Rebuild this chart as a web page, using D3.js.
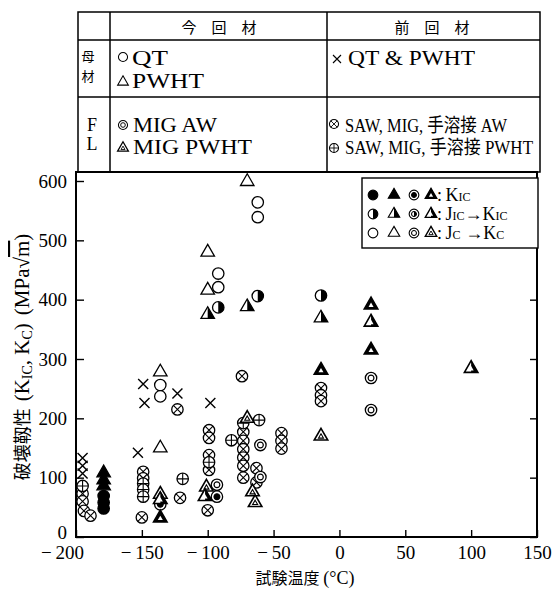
<!DOCTYPE html>
<html>
<head>
<meta charset="utf-8">
<script src="https://cdn.jsdelivr.net/npm/d3@7"></script>
<style>
  body { margin: 0; background: #fff; }
  text { font-family: "Liberation Serif", "Times New Roman", "DejaVu Serif", "Noto Sans CJK JP", serif; fill: #000; }
  .cjk { font-family: "Noto Sans CJK JP", sans-serif; }
</style>
</head>
<body>
<div id="chart"></div>
<script>
// points: [temperature degC, toughness MPa sqrt(m), state]  state: f = K_IC, h = J_IC->K_IC, o = J_C->K_C
var qtPts = [[-179, 69, "f"], [-179, 58, "f"], [-179, 48, "f"],
  [-136, 256, "o"], [-136, 237, "o"], [-92, 444, "o"], [-92, 421, "o"], [-92, 387, "h"],
  [-62, 564, "o"], [-62, 539, "o"], [-62, 406, "h"], [-14, 407, "h"]];
var pwhtPts = [[-179, 108, "f"], [-179, 96, "f"], [-179, 86, "f"],
  [-136, 278, "o"], [-136, 150, "o"], [-100, 480, "o"], [-100, 416, "o"], [-100, 375, "h"],
  [-70, 599, "o"], [-70, 388, "h"], [-14, 369, "h"]];
var migAwPts = [[-136, 55, "f"], [-93, 88, "o"], [-93, 68, "f"], [-60, 155, "o"], [-60, 101, "o"],
  [24, 268, "o"], [24, 214, "o"]];
var migPwhtPts = [[-136, 72, "o"], [-136, 63, "h"], [-136, 32, "f"], [-101, 84, "o"], [-102, 68, "h"],
  [-70, 200, "o"], [-66, 76, "o"], [-64, 58, "o"], [-14, 281, "f"], [-14, 170, "o"],
  [24, 391, "f"], [24, 362, "h"], [24, 315, "f"], [100, 284, "h"]];
var prevBmPts = [[-195, 133], [-195, 120], [-195, 107], [-149, 258], [-148, 226], [-153, 142],
  [-123, 242], [-98, 226]];
var prevAwPts = [[-195, 73], [-195, 60], [-194, 44], [-189, 36],
  [-149, 110], [-149, 99], [-150, 33], [-123, 215], [-121, 66],
  [-99, 180], [-99, 167], [-99, 138], [-99, 113], [-100, 45],
  [-74, 271], [-73, 177], [-73, 162], [-73, 148], [-73, 134], [-73, 120], [-73, 100],
  [-63, 116], [-63, 92], [-44, 175], [-44, 162], [-44, 149], [-14, 251], [-14, 239], [-14, 229]];
var prevPwhtPts = [[-195, 86], [-149, 90], [-149, 80], [-149, 68], [-119, 98], [-99, 126],
  [-73, 192], [-82, 163], [-61, 197]];

var xTicks = [-200, -150, -100, -50, 0, 50, 100, 150];
var yTicks = [0, 100, 200, 300, 400, 500, 600];

var width = 557, height = 591;
var left = 76, right = 537, bottom = 537, plotTop = 172, tableTop = 12;
var x = d3.scaleLinear([-200, 150], [left, right]);
var y = d3.scaleLinear([0, 600], [bottom, 181]);

var svg = d3.select("#chart").append("svg").attr("width", width).attr("height", height);

// ---- marker drawing ----
function triPath(s) {
  var h = s * Math.sqrt(3) / 2;
  return "M0," + (-h * 2 / 3) + "L" + (s / 2) + "," + (h / 3) + "L" + (-s / 2) + "," + (h / 3) + "Z";
}
function halfTriPath(s) {
  var h = s * Math.sqrt(3) / 2;
  return "M0," + (-h * 2 / 3) + "L" + (s / 2) + "," + (h / 3) + "L0," + (h / 3) + "Z";
}
function halfCircPath(r) {
  return "M0," + (-r) + "A" + r + "," + r + " 0 0 1 0," + r + "Z";
}

function drawMarker(g, kind, state) {
  var sw = 1.3;
  if (kind == "qt") {
    g.append("circle").attr("r", 5.7).attr("fill", state == "f" ? "#000" : "#fff").attr("stroke", "#000").attr("stroke-width", sw);
    if (state == "h") g.append("path").attr("d", halfCircPath(5.7)).attr("fill", "#000");
  } else if (kind == "pwht") {
    g.append("path").attr("d", triPath(13.5)).attr("fill", state == "f" ? "#000" : "#fff").attr("stroke", "#000").attr("stroke-width", sw);
    if (state == "h") g.append("path").attr("d", halfTriPath(13.5)).attr("fill", "#000");
  } else if (kind == "migaw") {
    g.append("circle").attr("r", 5.7).attr("fill", "#fff").attr("stroke", "#000").attr("stroke-width", sw);
    g.append("circle").attr("r", 2.9).attr("fill", state == "f" ? "#000" : "#fff").attr("stroke", "#000").attr("stroke-width", 1.2);
    if (state == "h") g.append("path").attr("d", halfCircPath(2.9)).attr("fill", "#000");
  } else if (kind == "migpwht") {
    g.append("path").attr("d", triPath(13.5)).attr("fill", state == "f" ? "#000" : "#fff").attr("stroke", "#000").attr("stroke-width", 1.6);
    if (state == "h") g.append("path").attr("d", halfTriPath(13.5)).attr("fill", "#000");
    g.append("path").attr("d", triPath(5)).attr("transform", "translate(0,0.5)")
      .attr("fill", "#fff").attr("stroke", "#000").attr("stroke-width", state == "o" ? 1.1 : 0);
  } else if (kind == "cross") {
    g.append("path").attr("d", "M-5,-5L5,5M5,-5L-5,5").attr("stroke", "#000").attr("stroke-width", 1.4);
  } else if (kind == "otimes" || kind == "oplus") {
    g.append("circle").attr("r", 5.7).attr("fill", "#fff").attr("stroke", "#000").attr("stroke-width", sw);
    var d = kind == "otimes" ? "M-4,-4L4,4M4,-4L-4,4" : "M-5.7,0L5.7,0M0,-5.7L0,5.7";
    g.append("path").attr("d", d).attr("stroke", "#000").attr("stroke-width", 1.1);
  }
}

// ---- table ----
var colA = 110, colB = 327, row1 = 40, row2 = 97;
var tbl = svg.append("g").attr("stroke", "#000").attr("stroke-width", 1.5);
tbl.append("rect").attr("x", left + 2).attr("y", tableTop).attr("width", right + 3 - left - 2).attr("height", plotTop - tableTop).attr("fill", "none");
tbl.append("line").attr("x1", left + 2).attr("x2", right + 3).attr("y1", row1).attr("y2", row1);
tbl.append("line").attr("x1", left + 2).attr("x2", right + 3).attr("y1", row2).attr("y2", row2);
tbl.append("line").attr("x1", colA).attr("x2", colA).attr("y1", tableTop).attr("y2", plotTop);
tbl.append("line").attr("x1", colB).attr("x2", colB).attr("y1", tableTop).attr("y2", plotTop);

var tt = svg.append("g");
tt.append("text").attr("class", "cjk").attr("x", 219).attr("y", 33).attr("text-anchor", "middle").attr("font-size", 15).text("今　回　材");
tt.append("text").attr("class", "cjk").attr("x", 432).attr("y", 33).attr("text-anchor", "middle").attr("font-size", 15).text("前　回　材");
tt.append("text").attr("class", "cjk").attr("x", 88).attr("y", 61).attr("text-anchor", "middle").attr("font-size", 13).text("母");
tt.append("text").attr("class", "cjk").attr("x", 88).attr("y", 81).attr("text-anchor", "middle").attr("font-size", 13).text("材");
tt.append("text").attr("x", 92).attr("y", 131).attr("text-anchor", "middle").attr("font-size", 18).text("F");
tt.append("text").attr("x", 92).attr("y", 150).attr("text-anchor", "middle").attr("font-size", 18).text("L");

var tableRows = [
  { kind: "qt", x: 123, y: 57, tx: 132, ty: 65, size: 20, len: 36, label: "QT" },
  { kind: "pwht", x: 123, y: 82, tx: 132, ty: 88, size: 20, len: 72, label: "PWHT" },
  { kind: "migaw", x: 123, y: 125, tx: 133, ty: 132, size: 20, len: 84, label: "MIG AW" },
  { kind: "migpwht", x: 123, y: 148, tx: 133, ty: 154, size: 20, len: 119, label: "MIG PWHT" },
  { kind: "cross", x: 337, y: 59, tx: 348, ty: 65, size: 20, len: 127, label: "QT & PWHT" },
  { kind: "otimes", x: 334, y: 124, tx: 345, ty: 132, size: 19, len: 162, label: "SAW, MIG, 手溶接 AW" },
  { kind: "oplus", x: 334, y: 148, tx: 345, ty: 154, size: 19, len: 188, label: "SAW, MIG, 手溶接 PWHT" }
];
tableRows.forEach(function (r) {
  var g = svg.append("g").attr("transform", "translate(" + r.x + "," + r.y + ") scale(0.8)");
  drawMarker(g, r.kind, "o");
  svg.append("text").attr("x", r.tx).attr("y", r.ty).attr("font-size", r.size)
    .attr("textLength", r.len).attr("lengthAdjust", "spacingAndGlyphs").text(r.label);
});

// ---- plot frame and axes ----
svg.append("rect").attr("x", left).attr("y", plotTop).attr("width", right - left).attr("height", bottom - plotTop)
  .attr("fill", "none").attr("stroke", "#000").attr("stroke-width", 2);

function fmt(d) { return d < 0 ? "\u2212\u2009" + Math.abs(d) : String(d); }

var xAxis = svg.append("g").attr("transform", "translate(0," + bottom + ")")
  .call(d3.axisBottom(x).tickValues(xTicks).tickSize(-7).tickPadding(9).tickFormat(fmt));
var yAxis = svg.append("g").attr("transform", "translate(" + left + ",0)")
  .call(d3.axisLeft(y).tickValues(yTicks).tickSize(-8).tickPadding(9).tickFormat(fmt));
var yAxisR = svg.append("g").attr("transform", "translate(" + right + ",0)")
  .call(d3.axisRight(y).tickValues(yTicks).tickSize(-7).tickFormat(""));
[xAxis, yAxis, yAxisR].forEach(function (a) {
  a.attr("font-family", null);
  a.select(".domain").remove();
  a.selectAll("line").attr("stroke-width", 1.4);
  a.selectAll("text").attr("font-size", 19);
});
// the -200 label sits left of its tick in the original
xAxis.selectAll(".tick").filter(function (d) { return d == -200; }).select("text").attr("dx", -14);
yAxis.selectAll(".tick").filter(function (d) { return d == 0; }).select("text").attr("dy", "0.1em");

// ---- axis titles ----
var yt = svg.append("text").attr("transform", "translate(29,357) rotate(-90)").attr("text-anchor", "middle")
  .attr("font-size", 21);
yt.append("tspan").attr("class", "cjk").attr("font-size", 18).text("破壊靱性");
yt.append("tspan").attr("dx", 7).text("(K");
yt.append("tspan").attr("font-size", 14).attr("dy", 3).text("IC");
yt.append("tspan").attr("dy", -3).text(", K");
yt.append("tspan").attr("font-size", 14).attr("dy", 3).text("C");
yt.append("tspan").attr("dy", -3).text(")");
yt.append("tspan").attr("dx", 8).text("(MPa\u221A");
yt.append("tspan").style("text-decoration", "overline").text("m");
yt.append("tspan").text(")");

var xt = svg.append("text").attr("x", 305).attr("y", 584).attr("text-anchor", "middle").attr("font-size", 18);
xt.append("tspan").attr("class", "cjk").attr("font-size", 16).text("試験温度 ");
xt.append("tspan").text("(\u00B0C)");

// ---- data points ----
var series = [
  { kind: "cross", pts: prevBmPts },
  { kind: "otimes", pts: prevAwPts },
  { kind: "oplus", pts: prevPwhtPts },
  { kind: "qt", pts: qtPts },
  { kind: "pwht", pts: pwhtPts },
  { kind: "migaw", pts: migAwPts },
  { kind: "migpwht", pts: migPwhtPts }
];
var marks = svg.append("g");
series.forEach(function (s) {
  marks.selectAll(null).data(s.pts).join("g")
    .attr("transform", function (d) { return "translate(" + x(d[0]) + "," + y(d[1]) + ")"; })
    .each(function (d) { drawMarker(d3.select(this), s.kind, d[2] || "o"); });
});

// ---- legend ----
var legStates = ["f", "h", "o"];
var legKinds = ["qt", "pwht", "migaw", "migpwht"];
var legX = [373, 394, 414, 431];
var legY = [195, 214, 233];
var lg = svg.append("g");
lg.append("rect").attr("x", 362).attr("y", 178).attr("width", 176).attr("height", 70)
  .attr("fill", "#fff").attr("stroke", "#000").attr("stroke-width", 1.4);
legStates.forEach(function (st, i) {
  var yy = legY[i];
  legKinds.forEach(function (k, j) {
    drawMarker(lg.append("g").attr("transform", "translate(" + legX[j] + "," + yy + ") scale(0.85)"), k, st);
  });
  var t = lg.append("text").attr("x", 437).attr("y", yy + 6).attr("font-size", 18);
  if (i == 0) {
    t.append("tspan").text(":\u2009K");
    t.append("tspan").attr("font-size", 12).text("IC");
  } else if (i == 1) {
    t.append("tspan").text(":\u2009J");
    t.append("tspan").attr("font-size", 12).text("IC");
    t.append("tspan").text("\u2192K");
    t.append("tspan").attr("font-size", 12).text("IC");
  } else {
    t.append("tspan").text(":\u2009J");
    t.append("tspan").attr("font-size", 12).text("C");
    t.append("tspan").text(" \u2192K");
    t.append("tspan").attr("font-size", 12).text("C");
  }
});
</script>
</body>
</html>
